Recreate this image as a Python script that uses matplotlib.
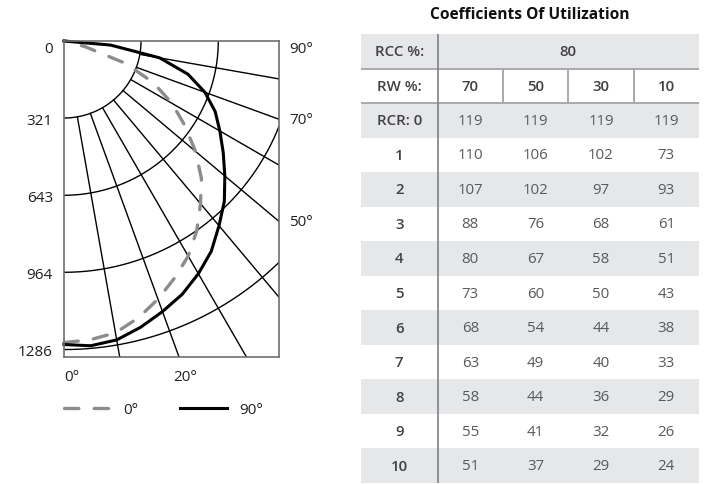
import numpy as np
import matplotlib.pyplot as plt
from matplotlib.patches import Rectangle

plt.rcParams['font.family'] = ['Open Sans', 'DejaVu Sans']

# --- candela distribution (angle from nadir, deg) ---
angles = [0, 5, 10, 15, 20, 25, 30, 35, 40, 45, 50, 55, 60, 65, 70, 75, 80, 85, 90]
cd_0 = [1257, 1250, 1235, 1195, 1145, 1090, 1035, 965, 885, 810, 715, 615, 520, 410, 275, 90, 25, 5, 0]
cd_90 = [1265, 1275, 1265, 1235, 1200, 1165, 1120, 1070, 1005, 945, 875, 810, 750, 695, 625, 535, 405, 195, 0]

r_ticks = [0, 321, 643, 964, 1286]
spokes = [10, 20, 30, 40, 50, 60, 70, 80]
side_labels = [90, 70, 50]
bottom_labels = [0, 20]

# --- coefficients of utilization ---
rcc = '80'
rw = ['70', '50', '30', '10']
rcr = ['RCR: 0', '1', '2', '3', '4', '5', '6', '7', '8', '9', '10']
cu = [
    [119, 119, 119, 119],
    [110, 106, 102, 73],
    [107, 102, 97, 93],
    [88, 76, 68, 61],
    [80, 67, 58, 51],
    [73, 60, 50, 43],
    [68, 54, 44, 38],
    [63, 49, 40, 33],
    [58, 44, 36, 29],
    [55, 41, 32, 26],
    [51, 37, 29, 24],
]

fig = plt.figure(figsize=(7.04, 4.85), dpi=100)

# polar grid drawn in a cartesian box, origin in the top left corner
ax = fig.add_axes([64 / 704, 127 / 485, 215 / 704, 316 / 485])
xmax, ymin = 896, -1317
ax.set_xlim(0, xmax)
ax.set_ylim(ymin, 0)

t = np.radians(np.linspace(0, 90, 300))
for r in r_ticks[1:]:
    ax.plot(r * np.sin(t), -r * np.cos(t), color='black', lw=1.0)
for a in spokes:
    a_r = np.radians(a)
    ax.plot([321 * np.sin(a_r), 3000 * np.sin(a_r)],
            [-321 * np.cos(a_r), -3000 * np.cos(a_r)], color='black', lw=1.0)

th = np.radians(angles)
c0 = np.array(cd_0)
c90 = np.array(cd_90)
ax.plot(c0 * np.sin(th), -c0 * np.cos(th), color='#8c8c8c', lw=2.4,
        linestyle=(0, (4.3, 4.6)), dash_capstyle='round', clip_on=False, label='0°')
ax.plot(c90 * np.sin(th), -c90 * np.cos(th), color='black', lw=2.2,
        clip_on=False, label='90°')

for s in ax.spines.values():
    s.set_color('#6d6e71')
    s.set_linewidth(1.2)

lab_fs = 11
ax.set_yticks([-r for r in r_ticks])
ax.set_yticklabels([str(r) for r in r_ticks])
ax.set_xticks([])
ax.tick_params(axis='y', length=0, pad=8, labelsize=lab_fs, labelcolor='#231f20')
ax.get_yticklabels()[0].set_va('top')

for a in side_labels:
    y = -xmax / np.tan(np.radians(a)) if a != 90 else 0
    ax.annotate(f'{a}°', xy=(xmax, y), xytext=(7.5, 0), textcoords='offset points',
                ha='left', va='top' if a == 90 else 'center', fontsize=lab_fs, color='#231f20')
for a in bottom_labels:
    x = -ymin * np.tan(np.radians(a))
    dx = 0 if a == 0 else -4.5
    ax.annotate(f'{a}°', xy=(x, ymin), xytext=(dx, -14), textcoords='offset points',
                ha='left', va='center', fontsize=lab_fs, color='#231f20')

ax.legend(loc='center left', bbox_to_anchor=(64 / 704, 1 - 411 / 485),
          bbox_transform=fig.transFigure, ncol=2, frameon=False,
          handlelength=3.1, handletextpad=0.8, columnspacing=2.7,
          borderpad=0, borderaxespad=0, fontsize=lab_fs, labelcolor='#231f20')

# table
tab = fig.add_axes([360.7 / 704, 1 / 485, 338.3 / 704, 449 / 485])
tab.set_xlim(0, 338.3)
tab.set_ylim(449, 0)
tab.axis('off')
col_edges = [0, 77, 142.3, 207.6, 272.9, 338.3]
n_rows = 2 + len(rcr)
rh = 449 / n_rows
gray = '#e6e7e8'
head_c = '#414042'
val_c = '#58595b'
fs = 10.8

for i in range(n_rows):
    if i % 2 == 0:
        tab.add_patch(Rectangle((0, i * rh), col_edges[-1], rh, color=gray, lw=0))

def cx(j):
    return (col_edges[j] + col_edges[j + 1]) / 2

tab.text(cx(0), 0.5 * rh, 'RCC %:', ha='center', va='center', fontsize=fs,
         color=head_c, fontweight='semibold')
tab.text((col_edges[1] + col_edges[-1]) / 2, 0.5 * rh, rcc, ha='center', va='center',
         fontsize=fs, color=head_c, fontweight='semibold')
tab.text(cx(0), 1.5 * rh, 'RW %:', ha='center', va='center', fontsize=fs,
         color=head_c, fontweight='semibold')
for j, w in enumerate(rw):
    tab.text(cx(j + 1), 1.5 * rh, w, ha='center', va='center', fontsize=fs,
             color=head_c, fontweight='semibold')
for i, lab in enumerate(rcr):
    y = (i + 2.5) * rh
    tab.text(cx(0), y, lab, ha='center', va='center', fontsize=fs,
             color=head_c, fontweight='semibold')
    for j, v in enumerate(cu[i]):
        tab.text(cx(j + 1), y, str(v), ha='center', va='center', fontsize=fs, color=val_c)

line_c = '#a7a9ac'
tab.plot([0, col_edges[-1]], [rh, rh], color=line_c, lw=1.4)
tab.plot([0, col_edges[-1]], [2 * rh, 2 * rh], color=line_c, lw=1.4)
for x in col_edges[2:5]:
    tab.plot([x, x], [rh, 2 * rh], color=line_c, lw=1.4)
tab.plot([col_edges[1], col_edges[1]], [0, n_rows * rh], color='#808285', lw=1.2)

fig.text(529.5 / 704, 1 - 15 / 485, 'Coefficients Of Utilization', ha='center', va='center',
         fontsize=11.2, fontweight='bold', color='#111111')

fig.savefig('out.png', dpi=100)
